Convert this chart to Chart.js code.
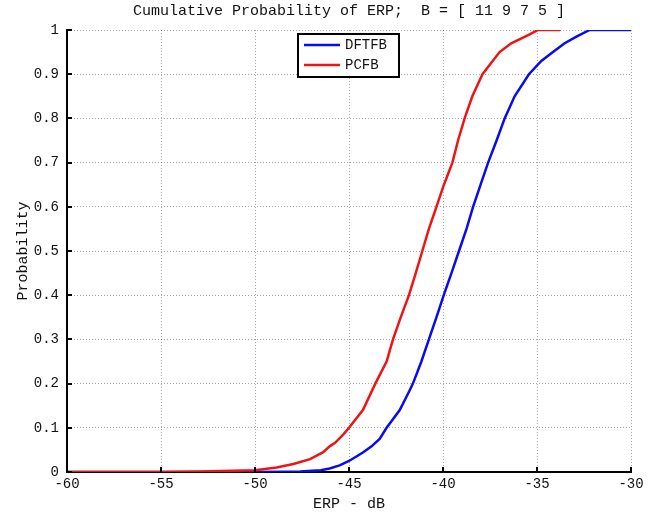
<!DOCTYPE html>
<html>
<head>
<meta charset="utf-8">
<script src="https://cdn.jsdelivr.net/npm/chart.js@4.4.1/dist/chart.umd.min.js"></script>
<style>
    html, body { margin: 0; padding: 0; background: #fff; }
    #wrap { width: 654px; height: 513px; }
</style>
</head>
<body>
<div id="wrap"><canvas id="erp-chart" width="654" height="513"></canvas></div>
<script>
// ERP values (dB), with the probability at each one
const dftfbErp = [-60, -50, -48.3, -47.6, -46.5, -46.03, -45.5, -45, -44.26, -43.8, -43.37, -43.0, -42.3,
    -41.77, -41.6, -41.15, -40.75, -40.35, -39.96, -39.55, -39.15, -38.75, -38.4, -38.0, -37.6,
    -37.15, -36.72, -36.19, -35.43, -34.77, -34.15, -33.53, -32.9, -32.2, -30];
const dftfbProb = [0, 0, 0.0005, 0.001, 0.004, 0.008, 0.015, 0.025, 0.044, 0.058, 0.075, 0.1, 0.14,
    0.185, 0.2, 0.25, 0.3, 0.35, 0.4, 0.45, 0.5, 0.55, 0.6, 0.65, 0.7,
    0.75, 0.8, 0.85, 0.9, 0.93, 0.95, 0.97, 0.985, 1, 1];

const pcfbErp = [-60, -55, -52.9, -50, -48.85, -47.96, -47.07, -46.37, -46.03, -45.74, -45.3, -45, -44.26,
    -43.6, -43.0, -42.66, -42.25, -41.81, -41.45, -41.1, -40.75, -40.35, -39.95, -39.5, -39.2,
    -38.85, -38.44, -37.9, -36.99, -36.37, -35.39, -34.95, -33.75];
const pcfbProb = [0, 0, 0.001, 0.004, 0.01, 0.018, 0.029, 0.045, 0.058, 0.066, 0.085, 0.1, 0.14,
    0.2, 0.25, 0.3, 0.35, 0.4, 0.45, 0.5, 0.55, 0.6, 0.65, 0.7, 0.75,
    0.8, 0.85, 0.9, 0.95, 0.97, 0.99, 1, 1];

const xTicks = [-60, -55, -50, -45, -40, -35, -30];
const yTicks = [0, 0.1, 0.2, 0.3, 0.4, 0.5, 0.6, 0.7, 0.8, 0.9, 1];

const monoFont = "'Liberation Mono', 'DejaVu Sans Mono', monospace";

function toPoints(xs, ys) {
    return xs.map((x, i) => ({ x: x, y: ys[i] }));
}

// inward ticks, like matlab
const innerTicks = {
    id: 'innerTicks',
    afterDraw(chart) {
        const ctx = chart.ctx;
        const area = chart.chartArea;
        const xs = chart.scales.x;
        const ys = chart.scales.y;
        ctx.save();
        ctx.strokeStyle = '#000';
        ctx.lineWidth = 2;
        ctx.beginPath();
        xTicks.forEach((v) => {
            let px = Math.round(xs.getPixelForValue(v));
            ctx.moveTo(px, area.bottom);
            ctx.lineTo(px, area.bottom - 5);
        });
        yTicks.forEach((v) => {
            let py = Math.round(ys.getPixelForValue(v));
            ctx.moveTo(area.left, py);
            ctx.lineTo(area.left + 5, py);
        });
        ctx.stroke();
        ctx.restore();
    },
};

// boxed legend inside the plot
const boxLegend = {
    id: 'boxLegend',
    afterDraw(chart) {
        const ctx = chart.ctx;
        const items = chart.data.datasets.slice().sort((a, b) => a.legendIndex - b.legendIndex);
        const left = 298, top = 34, w = 101, h = 43;
        ctx.save();
        ctx.fillStyle = '#fff';
        ctx.fillRect(left, top, w, h);
        ctx.strokeStyle = '#000';
        ctx.lineWidth = 2;
        ctx.strokeRect(left, top, w, h);
        ctx.font = '14px ' + monoFont;
        ctx.textBaseline = 'middle';
        items.forEach((ds, i) => {
            let y = top + 11 + i * 20;
            ctx.strokeStyle = ds.borderColor;
            ctx.lineWidth = 2.5;
            ctx.beginPath();
            ctx.moveTo(left + 6, y);
            ctx.lineTo(left + 42, y);
            ctx.stroke();
            ctx.fillStyle = '#111';
            ctx.fillText(ds.label, left + 47, y);
        });
        ctx.restore();
    },
};

new Chart(document.getElementById('erp-chart').getContext('2d'), {
    type: 'line',
    data: {
        datasets: [
            {
                label: 'DFTFB',
                data: toPoints(dftfbErp, dftfbProb),
                borderColor: '#0a0aee',
                borderWidth: 2.5,
                pointRadius: 0,
                tension: 0,
                order: 2,
                legendIndex: 0,
            },
            {
                label: 'PCFB',
                data: toPoints(pcfbErp, pcfbProb),
                borderColor: '#ee1414',
                borderWidth: 2.5,
                pointRadius: 0,
                tension: 0,
                order: 1,
                legendIndex: 1,
            },
        ],
    },
    options: {
        responsive: false,
        animation: false,
        layout: { padding: { left: 0, right: 23, top: 0, bottom: 0 } },
        plugins: {
            legend: { display: false },
            tooltip: { enabled: false },
            title: {
                display: true,
                fullSize: false,
                text: 'Cumulative Probability of ERP;  B = [ 11 9 7 5 ]',
                color: '#111',
                font: { family: monoFont, size: 15, weight: 'normal' },
                padding: { top: 2, bottom: 10 },
            },
        },
        scales: {
            x: {
                type: 'linear',
                min: -60,
                max: -30,
                afterBuildTicks: (s) => { s.ticks = xTicks.map((v) => ({ value: v })); },
                afterFit: (s) => { s.height = 41; },
                ticks: { color: '#111', font: { family: monoFont, size: 14 }, padding: 4, maxRotation: 0 },
                grid: { color: 'rgba(0,0,0,0.35)', drawTicks: false, lineWidth: 1 },
                border: { color: '#000', width: 2, dash: [1, 2] },
                title: {
                    display: true,
                    text: 'ERP - dB',
                    color: '#111',
                    font: { family: monoFont, size: 15 },
                    padding: { top: 2, bottom: 0 },
                },
            },
            y: {
                min: 0,
                max: 1,
                afterBuildTicks: (s) => { s.ticks = yTicks.map((v) => ({ value: v })); },
                afterFit: (s) => { s.width = 67; },
                ticks: {
                    color: '#111',
                    font: { family: monoFont, size: 14 },
                    padding: 8,
                    callback: (v) => String(v),
                },
                grid: { color: 'rgba(0,0,0,0.35)', drawTicks: false, lineWidth: 1 },
                border: { color: '#000', width: 2, dash: [1, 2] },
                title: {
                    display: true,
                    text: 'Probability',
                    color: '#111',
                    font: { family: monoFont, size: 15 },
                    padding: { top: 14, bottom: 0 },
                },
            },
        },
    },
    plugins: [innerTicks, boxLegend],
});
</script>
</body>
</html>
